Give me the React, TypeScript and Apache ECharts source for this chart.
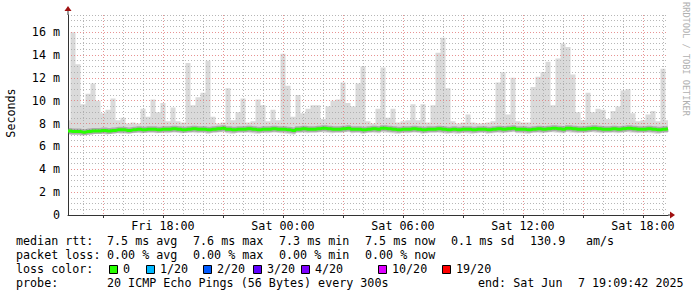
import React, { useEffect, useRef } from "react";
import * as echarts from "echarts";

// ---- data ----
const START_MINUTE = 13 * 60 + 15; // Fri 13:15
const STEP_MINUTES = 15;
const SLOT_COUNT = 121;
const pad = (n: number) => (n < 10 ? "0" + n : "" + n);
const timeSlots: string[] = Array.from({ length: SLOT_COUNT }, (_, i) => {
  const t = START_MINUTE + i * STEP_MINUTES;
  const day = t >= 1440 ? "Sat" : "Fri";
  const m = t % 1440;
  return `${day} ${pad(Math.floor(m / 60))}:${pad(m % 60)}`;
});

// upper edge of the smoke (ms)
const smokeMax = [
  8.3, 16.0, 13.2, 9.7, 10.6, 11.5, 10.0, 8.9, 9.2, 10.2, 8.3,
  8.5, 8.0, 8.1, 8.0, 9.3, 8.6, 10.1, 9.0, 9.8, 8.2, 9.4, 8.2, 8.1, 13.3, 9.6, 10.3, 10.7, 13.5, 8.6, 8.0,
  8.1, 11.1, 8.3, 9.0, 10.2, 8.1, 8.2, 10.1, 9.6, 8.2, 9.2, 8.3, 14.1, 11.3, 8.6, 10.5, 8.9, 9.3, 9.6, 9.6, 8.4, 9.5, 10.0, 10.1, 11.6, 9.8, 9.5, 11.5, 13.0, 8.2,
  8.0, 9.3, 12.9, 8.5, 9.3, 8.1, 8.2, 8.3, 9.7, 8.3, 9.7, 8.1, 9.6, 14.2, 15.5, 11.1, 8.2, 8.0, 8.1, 8.8, 8.1, 8.0, 8.0, 8.1, 8.2, 11.6, 12.5, 8.8, 12.0, 8.2,
  8.1, 8.1, 11.2, 12.1, 12.5, 13.4, 9.6, 13.7, 15.0, 14.7, 12.3, 9.0, 8.3, 10.7, 9.0, 9.3, 9.2, 8.4, 9.1, 9.5, 10.9, 11.0, 8.9, 8.2, 8.3, 8.8, 9.1, 8.2, 12.8, 8.3,
];

// lower edge of the smoke (ms)
const smokeMin = [
  7.05, 7.0, 7.0, 6.95, 7.0, 7.05, 7.1, 7.1, 7.05, 7.1, 7.15,
  7.1, 7.1, 7.15, 7.2, 7.15, 7.2, 7.2, 7.15, 7.2, 7.15, 7.2, 7.2, 7.15, 7.2, 7.2, 7.15, 7.2, 7.1, 7.2, 7.2,
  7.25, 7.15, 7.1, 7.2, 7.2, 7.2, 7.15, 7.1, 7.2, 7.15, 7.2, 7.2, 7.15, 7.1, 7.05, 7.2, 7.2, 7.15, 7.2, 7.2, 7.25, 7.2, 7.15, 7.2, 7.2, 7.25, 7.15, 7.2, 7.1, 7.2,
  7.2, 7.15, 7.25, 7.2, 7.15, 7.1, 7.2, 7.15, 7.2, 7.2, 7.1, 7.15, 7.2, 7.2, 7.15, 7.1, 7.15, 7.1, 7.2, 7.15, 7.1, 7.15, 7.2, 7.1, 7.15, 7.2, 7.15, 7.2, 7.25, 7.15,
  7.15, 7.1, 7.2, 7.2, 7.15, 7.2, 7.25, 7.2, 7.15, 7.25, 7.2, 7.15, 7.2, 7.2, 7.25, 7.2, 7.15, 7.2, 7.2, 7.15, 7.2, 7.25, 7.2, 7.15, 7.2, 7.2, 7.15, 7.1, 7.2, 7.2,
];

// median rtt (ms)
const medianRtt = [
  7.35, 7.3, 7.3, 7.25, 7.3, 7.35, 7.35, 7.4, 7.35, 7.4, 7.45,
  7.45, 7.4, 7.45, 7.5, 7.45, 7.5, 7.5, 7.45, 7.5, 7.5, 7.55, 7.5, 7.45, 7.5, 7.55, 7.5, 7.5, 7.45, 7.5, 7.55,
  7.6, 7.5, 7.45, 7.5, 7.5, 7.55, 7.5, 7.45, 7.5, 7.5, 7.55, 7.5, 7.5, 7.45, 7.4, 7.5, 7.55, 7.5, 7.5, 7.55, 7.6, 7.55, 7.5, 7.5, 7.55, 7.6, 7.5, 7.5, 7.45, 7.5,
  7.55, 7.5, 7.6, 7.55, 7.5, 7.45, 7.5, 7.5, 7.55, 7.5, 7.45, 7.5, 7.5, 7.55, 7.5, 7.45, 7.5, 7.45, 7.5, 7.5, 7.45, 7.5, 7.5, 7.45, 7.5, 7.55, 7.5, 7.55, 7.6, 7.5,
  7.5, 7.45, 7.5, 7.55, 7.5, 7.55, 7.6, 7.55, 7.5, 7.6, 7.55, 7.5, 7.5, 7.55, 7.6, 7.55, 7.5, 7.5, 7.55, 7.5, 7.55, 7.6, 7.55, 7.5, 7.5, 7.55, 7.5, 7.45, 7.5, 7.55,
];

const yMax = 17.5;

const statsRow1 = [
  { text: "median rtt:", x: 16 },
  { text: "7.5 ms avg", x: 107 },
  { text: "7.6 ms max", x: 193 },
  { text: "7.3 ms min", x: 279 },
  { text: "7.5 ms now", x: 365 },
  { text: "0.1 ms sd", x: 451 },
  { text: "130.9", x: 530 },
  { text: "am/s", x: 586 },
];
const statsRow2 = [
  { text: "packet loss:", x: 16 },
  { text: "0.00 % avg", x: 107 },
  { text: "0.00 % max", x: 193 },
  { text: "0.00 % min", x: 279 },
  { text: "0.00 % now", x: 365 },
];
const lossLabels = ["0", "1/20", "2/20", "3/20", "4/20", "10/20", "19/20"];
const lossColors = ["#26ff00", "#00b8ff", "#0059ff", "#5e00ff", "#7e00ff", "#dd00ff", "#ff0000"];
const lossSquareX = [109, 146, 203, 253, 301, 378, 442];
const probeRow = [
  { text: "probe:", x: 16 },
  { text: "20 ICMP Echo Pings (56 Bytes) every 300s", x: 107 },
  { text: "end: Sat Jun", x: 478 },
  { text: "7 19:09:42 2025", x: 578 },
];

const MONO = "'DejaVu Sans Mono', monospace";
const FS = 11.7;

export default function App() {
  const ref = useRef<HTMLDivElement>(null);
  useEffect(() => {
    if (!ref.current) return;
    const chart = echarts.init(ref.current, undefined, { renderer: "svg" });
    const smokeSpan = smokeMax.map((v, i) => +(v - smokeMin[i]).toFixed(3));
    const red = "rgba(225,120,120,0.8)";
    const gray = "rgba(165,165,165,0.8)";

    const rowText = (items: { text: string; x: number }[], y: number) =>
      items.map((it) => ({
        type: "text",
        x: it.x,
        y,
        style: { text: it.text, fill: "#000", font: `${FS}px ${MONO}`, verticalAlign: "middle" },
      }));

    const lossEls: any[] = [];
    lossLabels.forEach((lab, i) => {
      lossEls.push({
        type: "rect",
        shape: { x: lossSquareX[i] + 0.5, y: 265.5, width: 8, height: 8 },
        style: { fill: lossColors[i], stroke: "#000", lineWidth: 1 },
      });
      lossEls.push({
        type: "text",
        x: lossSquareX[i] + 14,
        y: 269,
        style: { text: lab, fill: "#000", font: `${FS}px ${MONO}`, verticalAlign: "middle" },
      });
    });

    chart.setOption({
      animation: false,
      backgroundColor: "#ffffff",
      grid: { left: 68, right: 29, top: 15, bottom: 82, outerBoundsMode: "none" },
      xAxis: {
        type: "category",
        data: timeSlots,
        boundaryGap: false,
        axisLine: { show: true, lineStyle: { color: "#333", width: 1 } },
        axisTick: {
          show: true,
          length: 3,
          interval: (_i: number, v: string) => v.endsWith(":00") && parseInt(v.slice(4, 6), 10) % 3 === 0,
          lineStyle: { color: "#333" },
        },
        axisLabel: {
          interval: (_i: number, v: string) => v.endsWith(":00") && parseInt(v.slice(4, 6), 10) % 6 === 0,
          fontFamily: MONO,
          fontSize: FS,
          color: "#000",
          margin: 5,
        },
        splitLine: {
          show: true,
          interval: (_i: number, v: string) => v.endsWith(":00"),
          lineStyle: { color: [gray, red, gray], type: [1, 2], width: 1 },
        },
      },
      yAxis: {
        type: "value",
        min: 0,
        max: yMax,
        interval: 0.5,
        axisLine: { show: true, lineStyle: { color: "#333", width: 1 } },
        axisTick: { show: false },
        axisLabel: {
          fontFamily: MONO,
          fontSize: FS,
          color: "#000",
          margin: 8,
          showMaxLabel: false,
          formatter: (v: number) => {
            if (Math.abs(v / 2 - Math.round(v / 2)) > 1e-6) return "";
            return v === 0 ? "0" : `${v} m`;
          },
        },
        splitLine: {
          show: true,
          lineStyle: { color: [red, gray, gray, gray], type: [1, 2], width: 1 },
        },
      },
      series: [
        {
          name: "smoke base",
          type: "line",
          data: smokeMin,
          stack: "smoke",
          step: "middle",
          symbol: "none",
          z: -1,
          lineStyle: { width: 0 },
          areaStyle: { color: "rgba(0,0,0,0)" },
          silent: true,
        },
        {
          name: "smoke",
          type: "line",
          data: smokeSpan,
          stack: "smoke",
          step: "middle",
          symbol: "none",
          z: -1,
          lineStyle: { width: 0 },
          areaStyle: { color: "#dadada", opacity: 1 },
          silent: true,
        },
        {
          name: "smoke core",
          type: "line",
          data: medianRtt,
          step: "middle",
          symbol: "none",
          z: 3,
          lineStyle: { width: 6, color: "rgba(100,100,100,0.4)" },
          silent: true,
        },
        {
          name: "median rtt",
          type: "line",
          data: medianRtt,
          step: "middle",
          symbol: "none",
          z: 4,
          lineStyle: { width: 3, color: "#26ff00" },
          silent: true,
        },
      ],
      graphic: [
        // axis arrows
        { type: "line", shape: { x1: 68, y1: 15, x2: 68, y2: 9 }, style: { stroke: "#333", lineWidth: 1 } },
        { type: "polygon", shape: { points: [[64.5, 11], [71.5, 11], [68, 6]] }, style: { fill: "#a01010" } },
        { type: "line", shape: { x1: 668, y1: 215, x2: 672, y2: 215 }, style: { stroke: "#333", lineWidth: 1 } },
        { type: "polygon", shape: { points: [[670, 211.5], [670, 218.5], [675, 215]] }, style: { fill: "#a01010" } },
        // y axis title
        {
          type: "text",
          x: 11,
          y: 113,
          rotation: Math.PI / 2,
          style: { text: "Seconds", fill: "#000", font: `${FS}px ${MONO}`, align: "center", verticalAlign: "middle" },
        },
        // watermark
        {
          type: "text",
          x: 686,
          y: 59,
          rotation: -Math.PI / 2,
          style: { text: "RRDTOOL / TOBI OETIKER", fill: "#b0b0b0", font: `8.6px ${MONO}`, align: "center", verticalAlign: "middle" },
        },
        ...rowText(statsRow1, 241),
        ...rowText(statsRow2, 255),
        ...rowText([{ text: "loss color:", x: 16 }], 269),
        ...lossEls,
        ...rowText(probeRow, 283),
      ],
    });
    return () => chart.dispose();
  }, []);
  return (
    <div
      ref={ref}
      style={{ position: "absolute", left: 0, top: 0, width: 697, height: 297, background: "#fff" }}
    />
  );
}
